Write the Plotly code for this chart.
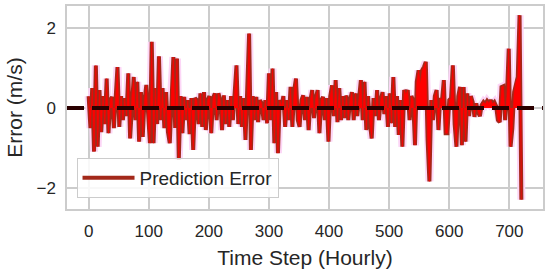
import numpy as np
import plotly.graph_objects as go

# hourly prediction error, one value every 3 steps (0..720)
step = 3
error = [
    0.3, -0.5, 0.5, -1.09, 1.07, -0.97, 0.45, -0.6, 0.3, -0.4,
    0.74, -0.63, 0.2, 0.28, -0.5, 0.2, 1.03, -0.47, 0.3, -0.3,
    0.25, -0.2, 0.87, -0.76, 0.3, 0.78, -0.3, 0.66, -0.84, 0.4,
    -0.72, 0.2, 0.58, -0.4, -0.88, 1.66, -0.88, 0.5, -0.4, 1.3,
    -0.3, 0.5, -0.5, 0.4, -0.6, -0.88, 0.5, 1.28, -0.5, 1.24,
    -1.3, 0.3, -0.63, 0.28, -0.3, 0.2, -0.65, 0.25, -1.05, 0.25,
    0.2, -0.4, 0.37, -0.47, 0.4, -0.55, 0.2, 0.3, -0.63, 0.25,
    0.37, -0.3, 0.37, 0.2, -0.55, 0.32, -0.4, 0.2, -0.47, 0.3,
    -0.3, 0.4, 1.07, -0.4, 0.3, -0.47, 0.25, -0.8, 0.3, 1.87,
    -1.05, 0.3, -0.3, 0.28, -0.35, 0.2, 0.12, -0.3, 0.2, -0.38,
    0.87, -0.3, 0.99, -0.88, 0.4, -1.13, 0.2, 0.05, 0.3, -0.47,
    0.2, -0.3, 0.53, -0.47, 0.45, 0.74, -0.3, -0.47, 0.2, 0.32,
    -0.3, 0.28, -0.55, 0.2, 0.45, -0.25, 0.25, 0.45, -0.63, 0.2,
    0.28, -0.3, 0.25, -0.84, 0.3, 0.57, -0.2, 0.7, -0.35, 0.5,
    -0.3, 0.3, -0.25, 0.32, -0.3, 0.2, 0.4, -0.3, 0.37, -0.2,
    0.25, 0.7, -0.3, 0.66, -0.55, 0.3, -0.4, -0.76, 0.25, -0.2,
    0.45, -0.3, 0.2, 0.4, -0.15, 0.3, -0.47, 0.37, -0.38, 0.78,
    -0.47, 0.3, -0.67, 0.2, -0.97, 0.45, 0.35, 0.45, -0.3, 0.3,
    0.2, -0.93, 0.66, 0.95, 0.6, 0.95, 1.03, 1.16, -0.8, -1.84,
    0.2, -0.3, 0.3, 0.45, -0.55, 0.25, 0.2, 0.7, -0.63, -0.63,
    0.2, 0.25, 1.07, -0.4, -0.97, 0.3, 0.53, -0.93, 0.53, -0.84,
    0.37, -0.2, 0.3, 0.15, -0.22, 0.12, -0.1, -0.2, 0.08, 0.15,
    0.1, 0.18, 0.12, 0.2, 0.1, 0.15, 0.05, -0.3, -0.35, 0.53,
    0.55, -0.3, 0.3, 1.49, -0.97, -0.5, 0.4, 0.66, 0.78, 2.33,
    -2.3,
]
time_step = np.arange(len(error)) * step

x_ticks = [0, 100, 200, 300, 400, 500, 600, 700]
y_ticks = [-2, 0, 2]
x_range = [-36, 756]
y_range = [-2.53, 2.56]

font = "Liberation Sans, Arial, sans-serif"
grid = "#cccccc"

fig = go.Figure()
# faint pink halo round the series
fig.add_trace(go.Scatter(x=time_step, y=error, mode="lines",
                         line=dict(color="#fcd6f6", width=8),
                         showlegend=False, hoverinfo="skip"))
fig.add_trace(go.Scatter(x=time_step, y=error, mode="lines", name="Prediction Error",
                         line=dict(color="#a3291a", width=4)))
fig.add_trace(go.Scatter(x=time_step, y=error, mode="lines", fill="tozeroy",
                         fillcolor="#ff0000", line=dict(color="#ff0000", width=0.6),
                         showlegend=False, hoverinfo="skip"))
# zero reference line
fig.add_trace(go.Scatter(x=x_range, y=[0, 0], mode="lines",
                         line=dict(color="#2a0000", width=4, dash="17px,8px"),
                         showlegend=False, hoverinfo="skip"))

fig.update_layout(
    width=550, height=272,
    margin=dict(l=67, r=7, t=6, b=63),
    paper_bgcolor="white", plot_bgcolor="white",
    font=dict(family=font, size=17, color="#262626"),
    showlegend=True,
    legend=dict(x=0.02, y=0.055, xanchor="left", yanchor="bottom", itemwidth=52,
                bgcolor="rgba(255,255,255,0.85)", bordercolor=grid, borderwidth=1,
                font=dict(size=19, color="#262626")),
)
fig.update_xaxes(range=x_range, tickvals=x_ticks, showgrid=True, gridcolor=grid, gridwidth=1.5,
                 zeroline=False, showline=True, linecolor=grid, linewidth=1.5, mirror=True,
                 ticks="", ticklabelstandoff=6, automargin=False,
                 title=dict(text="Time Step (Hourly)", font=dict(size=21), standoff=10))
fig.update_yaxes(range=y_range, tickvals=y_ticks, showgrid=True, gridcolor=grid, gridwidth=1.5,
                 zeroline=False, showline=True, linecolor=grid, linewidth=1.5, mirror=True,
                 ticks="", ticklabelstandoff=6, automargin=False,
                 title=dict(text="Error (m/s)", font=dict(size=21), standoff=8))

# the page's default body margin would push the figure off by 8px
fig.write_html("out.html", config={"displayModeBar": False},
               post_script="document.body.style.margin='0';")
